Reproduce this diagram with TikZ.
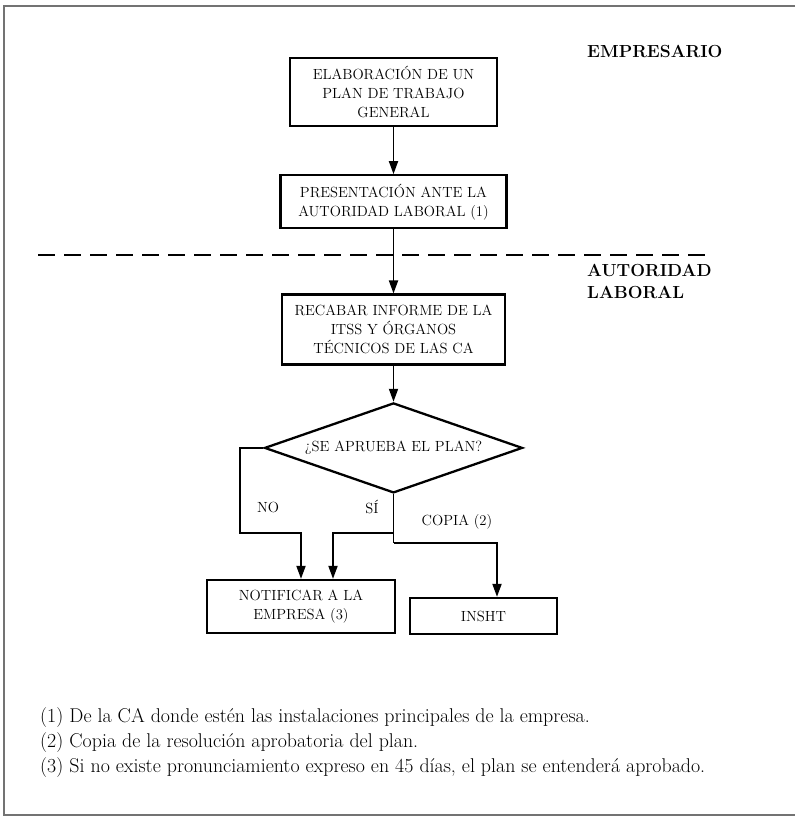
\documentclass[tikz,border=0pt]{standalone}
\usepackage{tikz}
\usetikzlibrary{arrows.meta,positioning,calc,shapes.geometric}
\tikzset{
  stepbox/.style={draw=black,line width=2.3pt,fill=white,align=center,
    inner sep=2pt,font=\fontsize{14.7}{19}\selectfont},
  decbox/.style={draw=black,line width=2.3pt,diamond,aspect=2.87,
    minimum width=258pt,minimum height=90pt,inner sep=0pt,
    font=\fontsize{14.7}{19}\selectfont},
  headlabel/.style={font=\bfseries\fontsize{17.5}{22}\selectfont,
    align=left,inner sep=0pt},
  branchlabel/.style={font=\fontsize{14.7}{19}\selectfont,inner sep=0pt},
  notetext/.style={font=\fontsize{19.9}{24}\selectfont,anchor=base west,inner sep=0pt},
  branch/.style={-{Triangle[length=13pt,width=9pt]},line width=1.8pt}
}
\begin{document}
\begin{tikzpicture}[x=1pt,y=-1pt,node distance=40pt]
\useasboundingbox (0,0) rectangle (795,816);
% outer frame
\draw[black!55,line width=1.3pt] (795,6) -- (4,6) -- (4,815) -- (795,815);

% headings
\node[headlabel,anchor=base west] (emp) at (587,57.5) {EMPRESARIO};
\node[headlabel,anchor=base west] (aut) at (587,298) {AUTORIDAD\\LABORAL};

% flow
\node[stepbox,minimum width=207pt,minimum height=68pt] (plan) at (393.5,92)
  {ELABORACIÓN DE UN\\PLAN DE TRABAJO\\GENERAL};
\node[stepbox,minimum width=226pt,minimum height=53pt,below=47pt of plan] (present)
  {PRESENTACIÓN ANTE LA\\AUTORIDAD LABORAL (1)};
\node[stepbox,minimum width=223pt,minimum height=70pt,below=64pt of present] (recabar)
  {RECABAR INFORME DE LA\\ITSS Y ÓRGANOS\\TÉCNICOS DE LAS CA};
\node[decbox,below=36pt of recabar] (aprueba) {¿SE APRUEBA EL PLAN?};
\node[stepbox,minimum width=188pt,minimum height=53pt] (notif) at (301,606.5)
  {NOTIFICAR A LA\\EMPRESA (3)};
\node[stepbox,minimum width=147pt,minimum height=36pt] (insht) at (483.5,616) {INSHT};

% dashed border between the two parts
\draw[line width=1.8pt,dash pattern=on 17pt off 9pt] (38,255) -- (712,255);

\coordinate (noturn) at (240,533);
\coordinate (siturn) at (393.5,533);
\coordinate (copiaturn) at (393.5,543);

\draw[branch] (plan) -- (present);
\draw[branch] (present) -- (recabar);
\draw[branch] (recabar) -- (aprueba);
\draw[branch] (aprueba.west) -| (noturn) -| (notif.north);
\draw[line width=1.8pt] (aprueba.south) -- (copiaturn);
\draw[branch] (siturn) -| ([xshift=32pt]notif.north);
\draw[branch] (copiaturn) -| ([xshift=13.5pt]insht.north);

\node[branchlabel] (no) at (268,507) {NO};
\node[branchlabel] (si) at (372,507) {SÍ};
\node[branchlabel] (copia) at (457,522) {COPIA (2)};

% notes
\node[notetext] (n1) at (40,722) {(1) De la CA donde estén las instalaciones principales de la empresa.};
\node[notetext] (n2) at (40,747) {(2) Copia de la resolución aprobatoria del plan.};
\node[notetext] (n3) at (40,772) {(3) Si no existe pronunciamiento expreso en 45 días, el plan se entenderá aprobado.};
\end{tikzpicture}
\end{document}
